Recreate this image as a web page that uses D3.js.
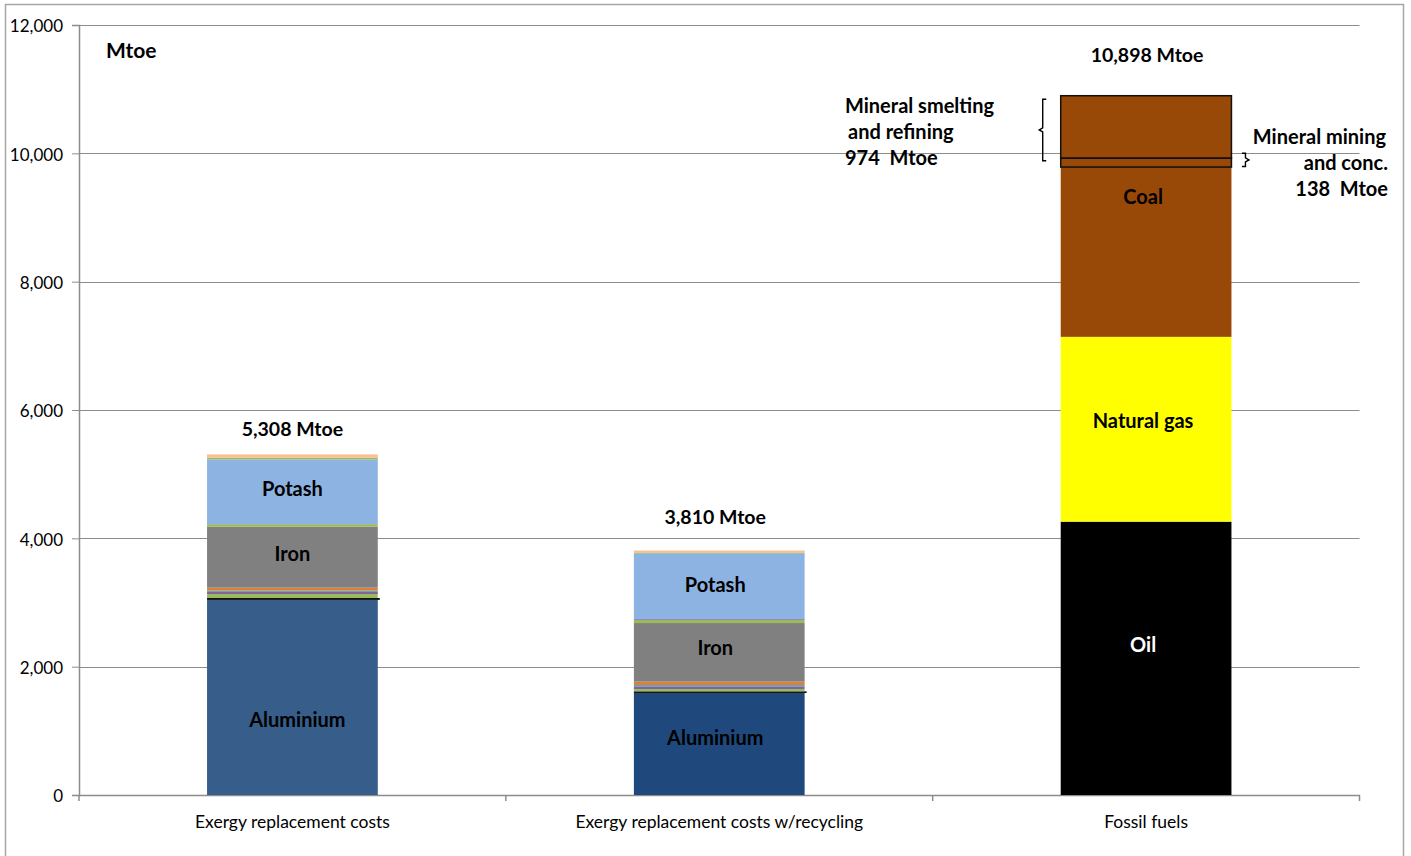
<!DOCTYPE html>
<html><head><meta charset="utf-8">
<script src="https://cdn.jsdelivr.net/npm/d3@7"></script>
<style>body{margin:0;background:#fff}text{font-family:Lato,"Liberation Sans",sans-serif}</style>
</head><body><svg id="c" width="1411" height="856"></svg>
<script>
// ---- data ----
const categories = ["Exergy replacement costs", "Exergy replacement costs w/recycling", "Fossil fuels"];
const seriesNames = ["Aluminium","Other","Green A","Purple A","Teal A","Orange","Iron","Green B","Purple B","Potash","Green C","Teal C","Salmon","Oil","Natural gas","Coal"];
const aluminium = [3040, 1590, 0];
const other     = [30, 26, 0];
const greenA    = [62, 36, 0];
const purpleA   = [32, 42, 0];
const tealA     = [20, 20, 0];
const orange    = [47, 52, 0];
const iron      = [951, 914, 0];
const greenB    = [39, 47, 0];
const purpleB   = [0, 13, 0];
const potash    = [1010, 1005, 0];
const greenC    = [25, 0, 0];
const tealC     = [0, 22, 0];
const salmon    = [52, 43, 0];
const oil       = [0, 0, 4260];
const naturalGas= [0, 0, 2880];
const coal      = [0, 0, 3758];
const totals = [5308, 3810, 10898];
const mineralMining = 138;     // Mtoe
const mineralSmelting = 974;   // Mtoe
const yTicks = [0, 2000, 4000, 6000, 8000, 10000, 12000];
// segment labels: [category index, text, value position]
const segLabels = [
  [0,"Potash",4784],[0,"Iron",3771],[0,"Aluminium",1184],
  [1,"Potash",3288],[1,"Iron",2306],[1,"Aluminium",904],
  [2,"Coal",9335],[2,"Natural gas",5844],[2,"Oil",2353]
];

const seriesValues = [aluminium, other, greenA, purpleA, tealA, orange, iron, greenB, purpleB, potash, greenC, tealC, salmon, oil, naturalGas, coal];
const colors = ["#375E8A","#111111","#9BBB59","#8064A2","#4BACC6","#E37D35","#808080","#9BBB59","#8064A2","#8DB3E2","#9BBB59","#4BACC6","#FAC090","#000000","#FFFF00","#984807"];
const aluminiumColors = ["#375E8A","#1F497D","#375E8A"];

// ---- chart ----
const svg = d3.select("#c");
const L = 79, R = 1359.5, T = 25, B = 795;
const TY = 2.5; // text vertical nudge
svg.append("rect").attr("x",5.5).attr("y",4.5).attr("width",1398).attr("height",870)
  .attr("fill","#fff").attr("stroke","#A6A6A6").attr("stroke-width",1.5);

const x = d3.scaleBand().domain(categories).range([L, R]).paddingInner(0).paddingOuter(0);
const y = d3.scaleLinear().domain([0, 12000]).range([B, T]);
const bw = x.bandwidth()*0.4;
const bx = c => x(c) + (x.bandwidth()-bw)/2;
const cx = i => x(categories[i]) + x.bandwidth()/2;

// gridlines
svg.append("g").selectAll("line").data(yTicks.filter(t=>t>0)).join("line")
  .attr("x1",L).attr("x2",R).attr("y1",d=>Math.round(y(d))+0.5).attr("y2",d=>Math.round(y(d))+0.5)
  .attr("stroke","#8C8C8C").attr("stroke-width",1);

// y axis
const ya = svg.append("g").attr("transform",`translate(${L},0)`)
  .call(d3.axisLeft(y).tickValues(yTicks).tickFormat(d3.format(",")).tickSize(7).tickPadding(9));
ya.select(".domain").attr("stroke","#8C8C8C").attr("stroke-width",1.5);
ya.selectAll(".tick line").attr("stroke","#8C8C8C");
ya.selectAll("text").attr("font-size",17).attr("fill","#000").attr("font-family","Lato").attr("dy","0.4em");

// x axis
const xa = svg.append("g").attr("transform",`translate(0,${B})`)
  .call(d3.axisBottom(x).tickSize(0).tickPadding(21));
xa.select(".domain").attr("stroke","#8C8C8C").attr("stroke-width",1.5);
xa.selectAll("text").attr("font-size",17.5).attr("fill","#000").attr("font-family","Lato");
svg.append("g").selectAll("line").data([L, ...categories.map(c=>x(c)+x.bandwidth())]).join("line")
  .attr("x1",d=>d).attr("x2",d=>d).attr("y1",B).attr("y2",B+6).attr("stroke","#8C8C8C").attr("stroke-width",1.5);

// stacked bars
const rows = categories.map((c,i)=>{const o={cat:c}; seriesNames.forEach((s,j)=>o[s]=seriesValues[j][i]); return o;});
const stacked = d3.stack().keys(seriesNames)(rows);
const g = svg.append("g");
stacked.forEach((layer, j) => {
  g.selectAll(null).data(layer.filter(d=>d[1]-d[0]>0)).join("rect")
    .attr("x", d=>bx(d.data.cat))
    .attr("width", bw + (seriesNames[j]==="Other" ? 2 : 0))
    .attr("y", d=>y(d[1]))
    .attr("height", d=>y(d[0])-y(d[1]))
    .attr("fill", d=> j===0 ? aluminiumColors[categories.indexOf(d.data.cat)] : colors[j]);
});

// mineral boxes on fossil bar
const fc = categories[2];
const fossilTop = totals[2];
[[fossilTop-mineralSmelting, fossilTop],[fossilTop-mineralSmelting-mineralMining, fossilTop-mineralSmelting]].forEach(([a,b])=>{
  svg.append("rect").attr("x",bx(fc)).attr("width",bw).attr("y",y(b)).attr("height",y(a)-y(b))
    .attr("fill","none").attr("stroke","#111").attr("stroke-width",1.5);
});

// braces (dir +1: tip points left, -1: tip points right)
function brace(xp, y0, y1, dir){
  const ym=(y0+y1)/2, t=3.5*dir, r=2;
  return `M${xp+t},${y0} L${xp},${y0} L${xp},${ym-r} L${xp-t},${ym} L${xp},${ym+r} L${xp},${y1} L${xp+t},${y1}`;
}
svg.append("path").attr("d",brace(bx(fc)-18, y(fossilTop)+3.5, y(fossilTop-mineralSmelting)+2.5, 1))
  .attr("fill","none").attr("stroke","#000").attr("stroke-width",1.4);
svg.append("path").attr("d",brace(bx(fc)+bw+14, y(fossilTop-mineralSmelting)-5, y(fossilTop-mineralSmelting-mineralMining)-0.5, -1))
  .attr("fill","none").attr("stroke","#000").attr("stroke-width",1.4);

// segment labels
svg.append("g").selectAll("text").data(segLabels).join("text")
  .attr("x", d=>cx(d[0]) + (d[1]==="Aluminium"&&d[0]===0?5:0) + (d[0]===1?-4:0) + (d[0]===2?-3:0))
  .attr("y", d=>y(d[2]) + TY)
  .attr("text-anchor","middle").attr("dominant-baseline","middle")
  .attr("font-size",20).attr("font-weight","bold")
  .attr("fill", d=>d[1]==="Oil"?"#fff":"#000").text(d=>d[1]);

// totals (pixel offset above bar top)
const totOffset = [26, 34.5, 41];
svg.append("g").selectAll("text").data(totals).join("text")
  .attr("x",(d,i)=>cx(i) + (i===1?-4:0) + (i===2?1:0))
  .attr("y",(d,i)=>y(d)-totOffset[i] + TY)
  .attr("text-anchor","middle").attr("dominant-baseline","middle")
  .attr("font-size",19.5).attr("font-weight","bold").text(d=>d3.format(",")(d)+" Mtoe");

// unit label
svg.append("text").attr("x",106).attr("y",50 + TY).attr("dominant-baseline","middle")
  .attr("font-size",21).attr("font-weight","bold").text("Mtoe");

// mineral annotations
const leftNote = [["Mineral smelting",845,105],["and refining",848,131],[mineralSmelting+"  Mtoe",845,157]];
svg.append("g").selectAll("text").data(leftNote).join("text")
  .attr("x",d=>d[1]).attr("y",d=>d[2] + TY).attr("dominant-baseline","middle")
  .attr("font-size",20).attr("font-weight","bold").style("white-space","pre").text(d=>d[0]);
const rightNote = [["Mineral mining",1386,136],["and conc.",1388,162],[mineralMining+"  Mtoe",1388,188]];
svg.append("g").selectAll("text").data(rightNote).join("text")
  .attr("x",d=>d[1]).attr("y",d=>d[2] + TY).attr("dominant-baseline","middle").attr("text-anchor","end")
  .attr("font-size",20).attr("font-weight","bold").style("white-space","pre").text(d=>d[0]);
</script></body></html>
